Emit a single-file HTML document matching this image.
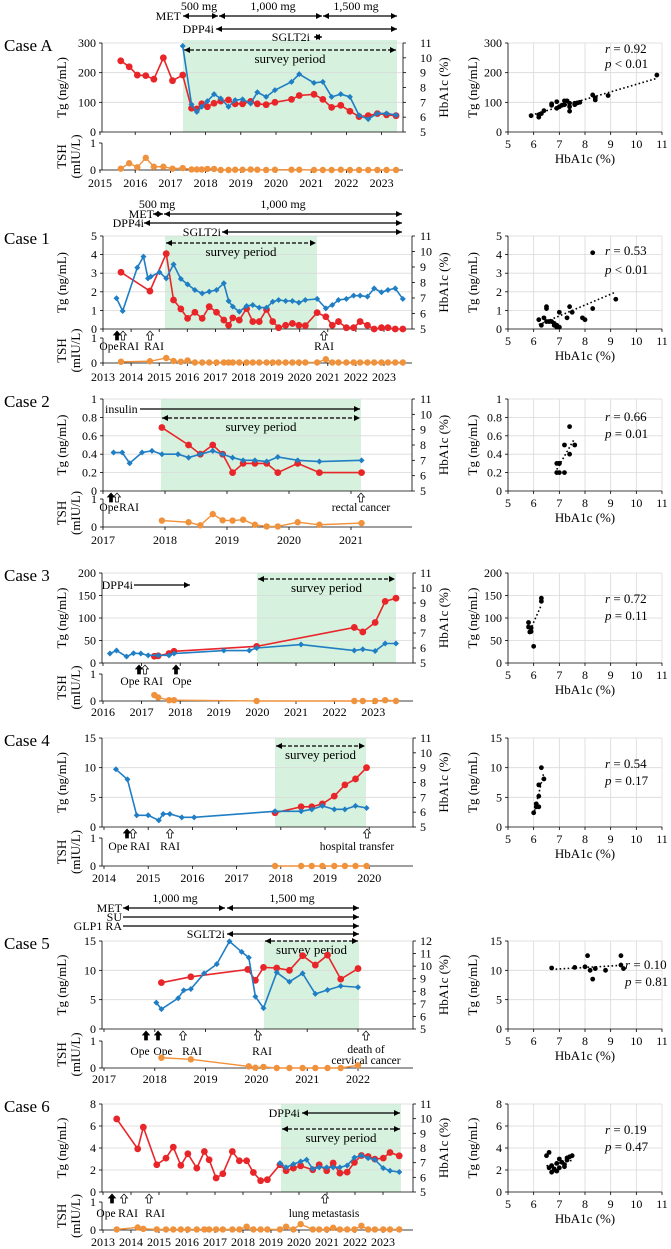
<!DOCTYPE html>
<html><head><meta charset="utf-8">
<style>
html,body{margin:0;padding:0;background:#fff;}
svg{display:block;font-family:"Liberation Serif",serif;}
</style></head>
<body>
<svg id="fig" xmlns="http://www.w3.org/2000/svg" width="671" height="1249" viewBox="0 0 671 1249">
<defs>
<marker id="ah" viewBox="0 0 6 6" refX="6" refY="3" markerWidth="6" markerHeight="6" markerUnits="userSpaceOnUse" orient="auto-start-reverse"><path d="M0,0 L6,3 L0,6 z" fill="#000"/></marker>
</defs>
</svg>
<script>
// ===== DATA =====
// Case A
const caseA_tgYears=[2015.59,2015.83,2016.06,2016.3,2016.53,2016.8,2017.06,2017.35,2017.6,2017.75,2017.89,2018.05,2018.24,2018.43,2018.65,2018.84,2019.05,2019.28,2019.47,2019.72,2019.97,2020.44,2020.66,2021.08,2021.33,2021.58,2021.84,2022.1,2022.36,2022.62,2022.88,2023.14,2023.41];
const caseA_tg=[240,220,192,190,178,250,173,192,80,78,95,85,97,104,108,95,95,103,95,92,100,110,123,127,110,83,90,70,52,55,62,58,55];
const caseA_hbYears=[2017.35,2017.6,2017.75,2017.89,2018.05,2018.24,2018.43,2018.65,2018.84,2019.05,2019.28,2019.47,2019.72,2019.97,2020.44,2020.66,2021.08,2021.33,2021.58,2021.84,2022.1,2022.36,2022.62,2022.88,2023.14,2023.41];
const caseA_hb=[10.8,6.86,6.36,6.7,7.08,7.55,7.26,6.7,7.15,7.2,6.92,7.68,7.37,7.82,8.38,8.9,8.31,8.38,7.37,7.55,7.37,6.12,5.87,6.25,6.25,6.14];
const caseA_tshYears=caseA_tgYears;
const caseA_tsh=[0.05,0.25,0.1,0.45,0.12,0.12,0.05,0.07,0.02,0.02,0.02,0.04,0.04,0,0,0.01,0.01,0.02,0.01,0,0.01,0.01,0.01,0,0,0,0.01,0,0,0,0,0,0];
const caseA_scHb=[5.9,6.2,6.2,6.3,6.4,6.7,6.7,6.9,6.9,7.0,7.1,7.2,7.3,7.2,7.4,7.4,7.4,7.6,7.6,7.7,7.8,8.3,8.4,8.4,8.9,10.8];
const caseA_scTg=[55,50,58,62,72,90,95,80,102,85,90,105,105,92,85,70,97,92,97,98,100,125,108,115,123,192];
// Case 1
const case1_tgYears=[2013.64,2014.67,2015.25,2015.51,2015.77,2016.01,2016.27,2016.53,2016.78,2017.04,2017.3,2017.47,2017.62,2017.85,2018.11,2018.33,2018.56,2018.82,2019.04,2019.25,2019.5,2019.74,2019.97,2020.2,2020.62,2020.93,2021.16,2021.38,2021.66,2021.92,2022.15,2022.41,2022.65,2022.91,2023.14,2023.4,2023.67];
const case1_tg=[3.05,2.04,4.05,1.56,1.08,0.57,0.9,0.57,1.2,0.9,0.48,0.2,0.6,0.48,1.1,0.4,0.4,1.05,0.4,0.07,0.2,0.3,0.2,0.18,0.88,0.66,0.2,0.4,0.07,0.07,0.4,0.2,0,0.07,0.07,0,0];
const case1_hbYears=[2013.48,2013.7,2014.22,2014.44,2014.6,2014.7,2015.01,2015.25,2015.51,2015.77,2016.01,2016.27,2016.53,2016.78,2017.04,2017.3,2017.47,2017.62,2017.85,2018.11,2018.33,2018.56,2018.82,2019.04,2019.25,2019.5,2019.74,2019.97,2020.2,2020.62,2020.93,2021.16,2021.38,2021.66,2021.92,2022.15,2022.41,2022.65,2022.91,2023.14,2023.4,2023.67];
const case1_hb=[6.98,6.16,8.96,9.67,8.27,8.38,8.66,8.27,9.17,8.23,7.88,7.52,7.3,7.41,7.52,7.95,6.81,6.44,6.12,6.48,6.55,6.38,6.38,6.76,6.87,6.81,6.81,6.7,6.87,6.94,6.33,6.55,6.87,6.94,7.15,7.15,7.09,7.62,7.37,7.52,7.62,6.94];
const case1_tshYears=case1_tgYears;
const case1_tsh=[0.05,0.07,0.2,0.08,0.05,0.1,0.02,0.02,0.02,0.02,0.02,0.02,0.02,0.02,0.02,0.02,0.02,0.02,0.02,0.02,0.02,0.02,0.02,0.02,0.02,0.15,0.02,0.02,0.02,0.02,0.02,0.02,0.02,0.02,0.02,0.02,0.02];
const case1_scHb=[6.2,6.3,6.4,6.5,6.5,6.5,6.6,6.7,6.8,6.8,6.9,6.9,7.0,7.0,7.3,7.4,7.5,7.9,8.0,8.3,8.3,9.2];
const case1_scTg=[0.5,0.2,0.6,0.4,1.1,1.2,0.4,0.4,0.2,0.3,0.2,0.1,0.1,0.9,0.6,1.2,0.9,0.6,0.5,4.1,1.1,1.6];
// Case 2
const case2_tgYears=[2017.95,2018.38,2018.57,2018.77,2018.93,2019.09,2019.26,2019.45,2019.64,2019.82,2020.14,2020.49,2021.17];
const case2_tg=[0.69,0.5,0.4,0.5,0.4,0.2,0.3,0.3,0.3,0.2,0.3,0.2,0.2];
const case2_hbYears=[2017.17,2017.31,2017.43,2017.63,2017.79,2017.95,2018.21,2018.38,2018.57,2018.77,2018.93,2019.09,2019.26,2019.45,2019.64,2019.82,2020.14,2020.49,2021.17];
const case2_hb=[7.51,7.51,6.81,7.51,7.62,7.4,7.4,7.18,7.4,7.62,7.4,7.18,7.0,7.0,6.92,7.22,7.0,6.92,7.0];
const case2_tshYears=case2_tgYears;
const case2_tsh=[0.23,0.17,0.06,0.46,0.24,0.23,0.26,0.08,0.02,0.02,0.17,0.08,0.14];
const case2_scHb=[6.9,7.0,6.9,7.0,7.2,7.2,7.4,7.4,7.6,7.0];
const case2_scTg=[0.3,0.3,0.2,0.2,0.5,0.2,0.7,0.4,0.5,0.3];
// Case 3
const case3_tgYears=[2017.33,2017.43,2017.71,2017.84,2019.98,2022.51,2022.73,2023.05,2023.31,2023.59];
const case3_tg=[15,16,21,26,37,79,69,90,137,144];
const case3_hbYears=[2016.18,2016.35,2016.61,2016.79,2016.98,2017.17,2017.43,2017.71,2017.84,2019.13,2019.79,2019.98,2021.13,2022.51,2022.73,2023.05,2023.31,2023.59];
const case3_hb=[5.63,5.83,5.43,5.65,5.63,5.51,5.51,5.51,5.63,5.83,5.83,6.0,6.23,5.83,5.92,5.8,6.3,6.3];
const case3_tshYears=case3_tgYears;
const case3_tsh=[0.22,0.13,0.03,0.03,0,0,0,0,0.03,0];
const case3_scHb=[5.8,5.8,5.9,5.9,6.0,6.3,6.3,5.85];
const case3_scTg=[80,90,70,78,37,137,144,69];
// Case 4
const case4_tgYears=[2017.87,2018.46,2018.7,2018.94,2019.21,2019.45,2019.69,2019.94];
const case4_tg=[2.4,3.4,3.4,3.9,5.2,7.1,8.1,10.0];
const case4_hbYears=[2014.27,2014.53,2014.74,2015.0,2015.24,2015.34,2015.49,2015.76,2016.04,2017.87,2018.46,2018.7,2018.94,2019.21,2019.45,2019.69,2019.94];
const case4_hb=[8.89,8.21,5.79,5.79,5.45,5.88,5.88,5.65,5.65,6.06,6.06,6.19,6.42,6.19,6.19,6.42,6.28];
const case4_tshYears=case4_tgYears;
const case4_tsh=[0,0,0,0,0,0,0,0];
const case4_scHb=[6.0,6.1,6.2,6.1,6.2,6.2,6.4,6.3];
const case4_scTg=[2.4,3.4,3.4,3.9,5.2,7.1,8.1,10.0];
// Case 5
const case5_tgYears=[2018.13,2018.71,2019.83,2019.98,2020.14,2020.4,2020.65,2020.91,2021.16,2021.4,2021.66,2022.0];
const case5_tg=[7.9,8.9,10.15,8.3,10.5,10.4,10.0,12.5,10.9,12.6,8.5,10.3];
const case5_hbYears=[2018.03,2018.13,2018.46,2018.57,2018.71,2018.97,2019.22,2019.47,2019.71,2019.85,2019.98,2020.14,2020.4,2020.65,2020.91,2021.16,2021.4,2021.66,2022.0];
const case5_hb=[7.1,6.58,7.45,8.08,8.18,9.42,10.16,11.97,11.13,10.68,7.58,6.66,9.5,8.76,9.42,7.79,8.1,8.42,8.32];
const case5_tshYears=[2018.13,2018.71,2019.85,2019.98,2020.14,2020.4,2020.65,2020.91,2021.16,2021.4,2021.66,2022.0];
const case5_tsh=[0.38,0.32,0.06,0.01,0.04,0,0,0,0,0,0,0.1];
const case5_scHb=[6.7,7.6,8.0,8.1,8.2,8.3,8.4,8.8,9.4,9.4,9.5];
const case5_scTg=[10.4,10.5,10.6,12.5,10.0,8.5,10.3,10.0,12.5,10.9,10.3];
// Case 6
const case6_tgYears=[2013.49,2014.24,2014.44,2014.92,2015.25,2015.51,2015.78,2016.03,2016.35,2016.62,2016.79,2017.04,2017.28,2017.62,2017.87,2018.13,2018.37,2018.63,2018.87,2019.32,2019.54,2019.8,2020.06,2020.49,2020.72,2020.99,2021.22,2021.46,2021.72,2021.98,2022.23,2022.47,2022.71,2023.01,2023.25,2023.58];
const case6_tg=[6.64,3.92,5.89,2.48,3.08,4.08,2.42,3.47,2.17,3.68,2.93,1.27,1.66,3.68,2.84,2.84,1.78,1.03,1.12,2.48,1.93,2.17,2.38,2.02,2.48,1.93,2.63,1.72,1.81,2.69,3.32,3.23,2.99,3.08,3.59,3.29];
const case6_hbYears=[2019.32,2019.54,2019.8,2020.06,2020.27,2020.49,2020.72,2020.99,2021.22,2021.46,2021.72,2021.98,2022.23,2022.47,2022.71,2023.01,2023.25,2023.58];
const case6_hb=[6.97,6.68,6.9,7.08,7.2,6.58,6.68,6.68,6.68,6.68,6.81,7.35,7.49,7.31,7.2,6.63,6.45,6.36];
const case6_tshYears=case6_tgYears;
const case6_tsh=[0.02,0.09,0.04,0.02,0.02,0.02,0.02,0.02,0.02,0.02,0.02,0.02,0.02,0.02,0.02,0.12,0.02,0.02,0.02,0.02,0.12,0.02,0.21,0.02,0.02,0.02,0.08,0.02,0.02,0.02,0.15,0.02,0.02,0.02,0.02,0.02];
const case6_scHb=[6.5,6.6,6.7,6.6,6.8,6.7,6.9,6.9,7.0,7.1,7.2,7.0,7.3,7.3,7.4,7.5,6.8,7.2];
const case6_scTg=[3.3,3.6,2.4,2.2,2.0,1.8,2.6,1.9,2.2,2.7,2.5,3.0,3.1,2.9,3.2,3.3,2.1,2.3];

// Tick labels
const caseA_years=[2015,2016,2017,2018,2019,2020,2021,2022,2023];
const case1_years=[2013,2014,2015,2016,2017,2018,2019,2020,2021,2022,2023];
const case2_years=[2017,2018,2019,2020,2021];
const case3_years=[2016,2017,2018,2019,2020,2021,2022,2023];
const case4_years=[2014,2015,2016,2017,2018,2019,2020];
const case5_years=[2017,2018,2019,2020,2021,2022];
const case6_years=[2013,2014,2015,2016,2017,2018,2019,2020,2021,2022,2023];
const tgTicksA=[0,100,200,300], tgTicks1=[0,1,2,3,4,5], tgTicks2=[0,0.2,0.4,0.6,0.8,1], tgTicks3=[0,50,100,150,200], tgTicks4=[0,5,10,15], tgTicks6=[0,2,4,6,8];
const hbTicks11=[5,6,7,8,9,10,11], hbTicks12=[5,6,7,8,9,10,11,12];
const scXTicks=[5,6,7,8,9,10,11];
const statsR=["0.92","0.53","0.66","0.72","0.54","0.10","0.19"];
const statsP=["< 0.01","< 0.01","= 0.01","= 0.11","= 0.17","= 0.81","= 0.47"];

// ===== RENDER =====
const NS="http://www.w3.org/2000/svg";
const svg=document.getElementById('fig');
function mk(tag,attrs,parent){const e=document.createElementNS(NS,tag);for(const k in attrs)e.setAttribute(k,attrs[k]);(parent||svg).appendChild(e);return e;}
function txt(str,attrs,parent){const e=mk('text',attrs,parent);e.textContent=str;return e;}
const RED="#e8262a",BLUE="#1f7ec4",ORANGE="#f0913c",SHADE="#d6f2de",GRID="#d9d9d9";

const cases=[
 {id:'A',title:'Case A',left:102,right:403,ax:100,ay:2015,ppy:35.2,top:43,bottom:132,tshTop:143,tshBot:170,yearY:187,
  tgY:caseA_tgYears,tg:caseA_tg,hbY:caseA_hbYears,hb:caseA_hb,tsY:caseA_tshYears,ts:caseA_tsh,scx:caseA_scHb,scy:caseA_scTg,years:caseA_years,
  tgTicks:tgTicksA,hbTicks:hbTicks11,shade:[183,397,40],survey:{x1:184,x2:396,y:50},rOff:[10,25],rx:605,
  doses:[{t:'500 mg',x:199,y:10},{t:'1,000 mg',x:273,y:10},{t:'1,500 mg',x:356,y:10}],
  meds:[{t:'MET',lx:181,y:16,segs:[[183,218],[219,322],[323,397]]},{t:'DPP4i',lx:214,y:29,segs:[[216,397]]},{t:'SGLT2i',lx:310,y:37,segs:[[314,322]]}],
  events:[],labels:[]},
 {id:'1',title:'Case 1',left:103,right:412,ax:103,ay:2013,ppy:28.1,top:236,bottom:329,tshTop:338,tshBot:363,yearY:381,
  tgY:case1_tgYears,tg:case1_tg,hbY:case1_hbYears,hb:case1_hb,tsY:case1_tshYears,ts:case1_tsh,scx:case1_scHb,scy:case1_scTg,years:case1_years,
  tgTicks:tgTicks1,hbTicks:hbTicks11,shade:[165,317,236],survey:{x1:166,x2:316,y:243},rOff:[19,38],rx:605,
  doses:[{t:'500 mg',x:157,y:208},{t:'1,000 mg',x:283,y:208}],
  meds:[{t:'MET',lx:154,y:214,segs:[[153,163],[164,402]]},{t:'DPP4i',lx:144,y:223,segs:[[144,402]]},{t:'SGLT2i',lx:221,y:232,segs:[[222,402]]}],
  events:[{x:117,f:1},{x:123,f:0},{x:150,f:0},{x:324,f:0}],labels:[{t:'Ope',x:109,y:346},{t:'RAI',x:129,y:346},{t:'RAI',x:154,y:346},{t:'RAI',x:324,y:346}]},
 {id:'2',title:'Case 2',left:103,right:412,ax:103,ay:2017,ppy:62,top:399,bottom:491,tshTop:499,tshBot:527,yearY:544,
  tgY:case2_tgYears,tg:case2_tg,hbY:case2_hbYears,hb:case2_hb,tsY:case2_tshYears,ts:case2_tsh,scx:case2_scHb,scy:case2_scTg,years:case2_years,
  tgTicks:tgTicks2,hbTicks:hbTicks11,shade:[161,361,399],survey:{x1:162,x2:360,y:418},rOff:[22,39],rx:605,
  doses:[],meds:[{t:'insulin',lx:136,y:409,segs:[[140,360]],one:1,noleft:1}],
  events:[{x:111,f:1},{x:117,f:0},{x:361,f:0}],labels:[{t:'Ope',x:109,y:507},{t:'RAI',x:129,y:507},{t:'rectal cancer',x:361,y:507}]},
 {id:'3',title:'Case 3',left:102,right:413,ax:103,ay:2016,ppy:38.6,top:573,bottom:663,tshTop:674,tshBot:701,yearY:716,
  tgY:case3_tgYears,tg:case3_tg,hbY:case3_hbYears,hb:case3_hb,tsY:case3_tshYears,ts:case3_tsh,scx:case3_scHb,scy:case3_scTg,years:case3_years,
  tgTicks:tgTicks3,hbTicks:hbTicks11,shade:[257,396,573],survey:{x1:258,x2:395,y:579},rOff:[30,47],rx:605,
  doses:[],meds:[{t:'DPP4i',lx:133,y:585,segs:[[134,190]],one:1}],
  events:[{x:139,f:1},{x:145,f:0},{x:176,f:1}],labels:[{t:'Ope',x:130,y:681},{t:'RAI',x:153,y:681},{t:'Ope',x:182,y:681}]},
 {id:'4',title:'Case 4',left:102,right:413,ax:104,ay:2014,ppy:44.2,top:738,bottom:827,tshTop:838,tshBot:866,yearY:882,
  tgY:case4_tgYears,tg:case4_tg,hbY:case4_hbYears,hb:case4_hb,tsY:case4_tshYears,ts:case4_tsh,scx:case4_scHb,scy:case4_scTg,years:case4_years,
  tgTicks:tgTicks4,hbTicks:hbTicks11,shade:[275,366,738],survey:{x1:276,x2:365,y:746},rOff:[30,47],rx:605,
  doses:[],meds:[],
  events:[{x:127,f:1},{x:133,f:0},{x:170,f:0},{x:367,f:0}],labels:[{t:'Ope',x:118,y:846},{t:'RAI',x:140,y:846},{t:'RAI',x:170,y:846},{t:'hospital transfer',x:357,y:846}]},
 {id:'5',title:'Case 5',left:102,right:413,ax:104,ay:2017,ppy:50.8,top:941,bottom:1029,tshTop:1041,tshBot:1068,yearY:1083,
  tgY:case5_tgYears,tg:case5_tg,hbY:case5_hbYears,hb:case5_hb,tsY:case5_tshYears,ts:case5_tsh,scx:case5_scHb,scy:case5_scTg,years:case5_years,
  tgTicks:tgTicks4,hbTicks:hbTicks12,shade:[264,359,941],survey:{x1:265,x2:358,y:941},rOff:[28,45],rx:625,
  doses:[{t:'1,000 mg',x:175,y:902},{t:'1,500 mg',x:292,y:902}],
  meds:[{t:'MET',lx:122,y:908,segs:[[123,225],[227,359]]},{t:'SU',lx:122,y:917,segs:[[123,359]],one:1,noleft:1},{t:'GLP1 RA',lx:122,y:926,segs:[[123,359]],one:1,noleft:1},{t:'SGLT2i',lx:225,y:934,segs:[[227,359]]}],
  events:[{x:146,f:1},{x:158,f:1},{x:183,f:0},{x:258,f:0},{x:366,f:0}],
  labels:[{t:'Ope',x:140,y:1051},{t:'Ope',x:163,y:1051},{t:'RAI',x:192,y:1051},{t:'RAI',x:262,y:1051},{t:'death of',x:366,y:1049},{t:'cervical cancer',x:366,y:1060}]},
 {id:'6',title:'Case 6',left:102,right:413,ax:103,ay:2013,ppy:28,top:1104,bottom:1192,tshTop:1202,tshBot:1230,yearY:1246,
  tgY:case6_tgYears,tg:case6_tg,hbY:case6_hbYears,hb:case6_hb,tsY:case6_tshYears,ts:case6_tsh,scx:case6_scHb,scy:case6_scTg,years:case6_years,
  tgTicks:tgTicks6,hbTicks:hbTicks11,shade:[281,401,1104],survey:{x1:282,x2:400,y:1129},rOff:[30,47],rx:605,
  doses:[],meds:[{t:'DPP4i',lx:300,y:1113,segs:[[302,400]]}],
  events:[{x:112,f:1},{x:124,f:0},{x:149,f:0},{x:325,f:0}],labels:[{t:'Ope',x:106,y:1213},{t:'RAI',x:128,y:1213},{t:'RAI',x:155,y:1213},{t:'lung metastasis',x:324,y:1213}]}
];

function arrowLine(g,x1,x2,y,dash,both){
  const l=mk('line',{x1:x1,y1:y,x2:x2,y2:y,stroke:'#000','stroke-width':1.3,'marker-end':'url(#ah)'},g);
  if(both)l.setAttribute('marker-start','url(#ah)');
  if(dash)l.setAttribute('stroke-dasharray','4,2');
  return l;
}

cases.forEach((c,ci)=>{
  const g=mk('g',{});
  
  
  const X=yr=>c.ax+(yr-c.ay)*c.ppy;
  const tgMax=c.tgTicks[c.tgTicks.length-1];
  const hMin=c.hbTicks[0],hMax=c.hbTicks[c.hbTicks.length-1];
  const YT=v=>c.bottom-v/tgMax*(c.bottom-c.top);
  const YH=v=>c.bottom-(v-hMin)/(hMax-hMin)*(c.bottom-c.top);
  const YS=v=>c.tshBot-v*(c.tshBot-c.tshTop);
  const fs=11;

  const title=txt(c.title,{x:4,y:c.top+8,'font-size':17},g);
  
  

  const sh=mk('rect',{x:c.shade[0],y:c.shade[2],width:c.shade[1]-c.shade[0],height:c.bottom-c.shade[2],fill:SHADE},g);
  
  
  c.tgTicks.forEach(v=>{
    if(v>0){const gl=mk('line',{x1:c.left,x2:c.right,y1:YT(v),y2:YT(v),stroke:GRID,'stroke-width':0.8},g);
      
      }
    const t=txt(String(v),{x:c.left-6,y:YT(v)+4,'font-size':fs+1,'text-anchor':'end'},g);
    
    
  });
  c.hbTicks.forEach(v=>{
    const t=txt(String(v),{x:420,y:YH(v)+4,'font-size':fs+1},g);
    
    
  });
  const ax=mk('path',{d:`M${c.left},${c.top} V${c.bottom} H${c.right} V${c.top}`,fill:'none',stroke:'#000','stroke-width':0.8},g);
  
  
  c.tgTicks.forEach(v=>{mk('line',{x1:c.left-3,x2:c.left,y1:YT(v),y2:YT(v),stroke:'#000','stroke-width':0.8},g);});
  c.hbTicks.forEach(v=>{mk('line',{x1:c.right,x2:c.right+3,y1:YH(v),y2:YH(v),stroke:'#000','stroke-width':0.8},g);});
  c.years.forEach(y=>{
    mk('line',{x1:X(y),x2:X(y),y1:c.bottom,y2:c.bottom+3,stroke:'#000','stroke-width':0.8},g);
    mk('line',{x1:X(y),x2:X(y),y1:c.tshBot,y2:c.tshBot+3,stroke:'#000','stroke-width':0.8},g);
    const t=txt(String(y),{x:X(y),y:c.yearY,'font-size':fs+1,'text-anchor':'middle'},g);
    
    
  });
  const mid=(c.top+c.bottom)/2;
  const yt=txt('Tg (ng/mL)',{x:0,y:0,'font-size':13,'text-anchor':'middle',transform:`translate(66,${mid}) rotate(-90)`},g);
  
  
  const ht=txt('HbA1c (%)',{x:0,y:0,'font-size':13,'text-anchor':'middle',transform:`translate(448,${mid}) rotate(-90)`},g);
  
  
  const tm=(c.tshTop+c.tshBot)/2;
  const tt=txt('TSH',{x:0,y:0,'font-size':13,'text-anchor':'middle',transform:`translate(66,${tm}) rotate(-90)`},g);
  
  
  const tu=txt('(mIU/L)',{x:0,y:0,'font-size':13,'text-anchor':'middle',transform:`translate(80,${tm}) rotate(-90)`},g);
  
  

  arrowLine(g,c.survey.x1,c.survey.x2,c.survey.y,true,true);
  const sp=txt('survey period',{x:(c.survey.x1+c.survey.x2)/2,y:c.survey.y+13,'font-size':13,'text-anchor':'middle'},g);
  
  
  c.doses.forEach(d=>{const t=txt(d.t,{x:d.x,y:d.y,'font-size':12,'text-anchor':'middle'},g);
    
    });
  c.meds.forEach(m=>{
    const t=txt(m.t,{x:m.t==='insulin'?105:m.lx,y:m.y+4,'font-size':12,'text-anchor':m.t==='insulin'?'start':'end'},g);
    
    
    m.segs.forEach(s=>{arrowLine(g,s[0],s[1],m.y,false,!m.one);});
  });
  c.events.forEach(e=>{
    const bx=e.x,by=c.bottom+2;
    const p=mk('polygon',{points:`${bx},${by} ${bx+3.5},${by+4} ${bx+1.5},${by+4} ${bx+1.5},${by+9} ${bx-1.5},${by+9} ${bx-1.5},${by+4} ${bx-3.5},${by+4}`,fill:e.f?'#000':'#fff',stroke:'#000','stroke-width':0.7},g);
    
    
  });
  c.labels.forEach(l=>{const t=txt(l.t,{x:l.x,y:l.y+4,'font-size':11.5,'text-anchor':'middle'},g);
    
    });

  const rp=mk('polyline',{points:c.tgY.map((y,i)=>X(y)+','+YT(c.tg[i])).join(' '),fill:'none',stroke:RED,'stroke-width':1.6},g);
  
  
  c.tgY.forEach((y,i)=>{const m=mk('circle',{cx:X(y),cy:YT(c.tg[i]),r:3.4,fill:RED},g);
    
    });
  const bp=mk('polyline',{points:c.hbY.map((y,i)=>X(y)+','+YH(c.hb[i])).join(' '),fill:'none',stroke:BLUE,'stroke-width':1.6},g);
  
  
  c.hbY.forEach((y,i)=>{const cx=X(y),cy=YH(c.hb[i]);
    const m=mk('polygon',{points:`${cx},${cy-3} ${cx+3},${cy} ${cx},${cy+3} ${cx-3},${cy}`,fill:BLUE},g);
    
    });

  const tax=mk('path',{d:`M${c.left},${c.tshTop} V${c.tshBot} H${c.right}`,fill:'none',stroke:'#000','stroke-width':0.8},g);
  
  
  [0,1].forEach(v=>{mk('line',{x1:c.left-3,x2:c.left,y1:YS(v),y2:YS(v),stroke:'#000','stroke-width':0.8},g);
    const t=txt(String(v),{x:c.left-6,y:YS(v)+4,'font-size':fs+1,'text-anchor':'end'},g);
    
    });
  const op=mk('polyline',{points:c.tsY.map((y,i)=>X(y)+','+YS(c.ts[i])).join(' '),fill:'none',stroke:ORANGE,'stroke-width':1.4},g);
  
  
  c.tsY.forEach((y,i)=>{const m=mk('circle',{cx:X(y),cy:YS(c.ts[i]),r:3.2,fill:ORANGE},g);
    
    });

  const sg=mk('g',{},g);
  
  
  const sl=508,sr=662;
  const SX=v=>sl+(v-5)/6*(sr-sl);
  scXTicks.forEach(v=>{
    if(v>5){const gl=mk('line',{x1:SX(v),x2:SX(v),y1:c.top,y2:c.bottom,stroke:GRID,'stroke-width':0.8},sg);
      
      }
    mk('line',{x1:SX(v),x2:SX(v),y1:c.bottom,y2:c.bottom+3,stroke:'#000','stroke-width':0.8},sg);
    const t=txt(String(v),{x:SX(v),y:c.bottom+16,'font-size':fs+1,'text-anchor':'middle'},sg);
    
    
  });
  c.tgTicks.forEach(v=>{
    if(v>0){const gl=mk('line',{x1:sl,x2:sr,y1:YT(v),y2:YT(v),stroke:GRID,'stroke-width':0.8},sg);
      
      }
    mk('line',{x1:sl-3,x2:sl,y1:YT(v),y2:YT(v),stroke:'#000','stroke-width':0.8},sg);
    const t=txt(String(v),{x:sl-6,y:YT(v)+4,'font-size':fs+1,'text-anchor':'end'},sg);
    
    
  });
  const sa=mk('path',{d:`M${sl},${c.top} V${c.bottom} H${sr}`,fill:'none',stroke:'#000','stroke-width':0.8},sg);
  
  
  const sxt=txt('HbA1c (%)',{x:(sl+sr)/2,y:c.bottom+31,'font-size':13,'text-anchor':'middle'},sg);
  
  
  const syt=txt('Tg (ng/mL)',{x:0,y:0,'font-size':13,'text-anchor':'middle',transform:`translate(477,${mid}) rotate(-90)`},sg);
  
  
  const n=c.scx.length;let mx=0,my=0;for(let i=0;i<n;i++){mx+=c.scx[i];my+=c.scy[i];}mx/=n;my/=n;
  let sxy=0,sxx=0;for(let i=0;i<n;i++){sxy+=(c.scx[i]-mx)*(c.scy[i]-my);sxx+=(c.scx[i]-mx)**2;}
  const b=sxy/sxx,a=my-b*mx;const xmin=Math.min(...c.scx),xmax=Math.max(...c.scx);
  const tl=mk('line',{x1:SX(xmin),y1:YT(a+b*xmin),x2:SX(xmax),y2:YT(a+b*xmax),stroke:'#000','stroke-width':1.6,'stroke-dasharray':'1.6,2.4'},sg);
  
  
  c.scx.forEach((v,i)=>{const m=mk('circle',{cx:SX(v),cy:YT(c.scy[i]),r:2.4,fill:'#000'},sg);
    
    });
  const rt=mk('text',{x:c.rx,y:c.top+c.rOff[0],'font-size':13},sg);
  rt.innerHTML='<tspan font-style="italic">r</tspan> = '+statsR[ci];
  
  
  const pt=mk('text',{x:c.rx,y:c.top+c.rOff[1],'font-size':13},sg);
  pt.innerHTML='<tspan font-style="italic">p</tspan> '+statsP[ci];
  
  
});
</script>
</body></html>
